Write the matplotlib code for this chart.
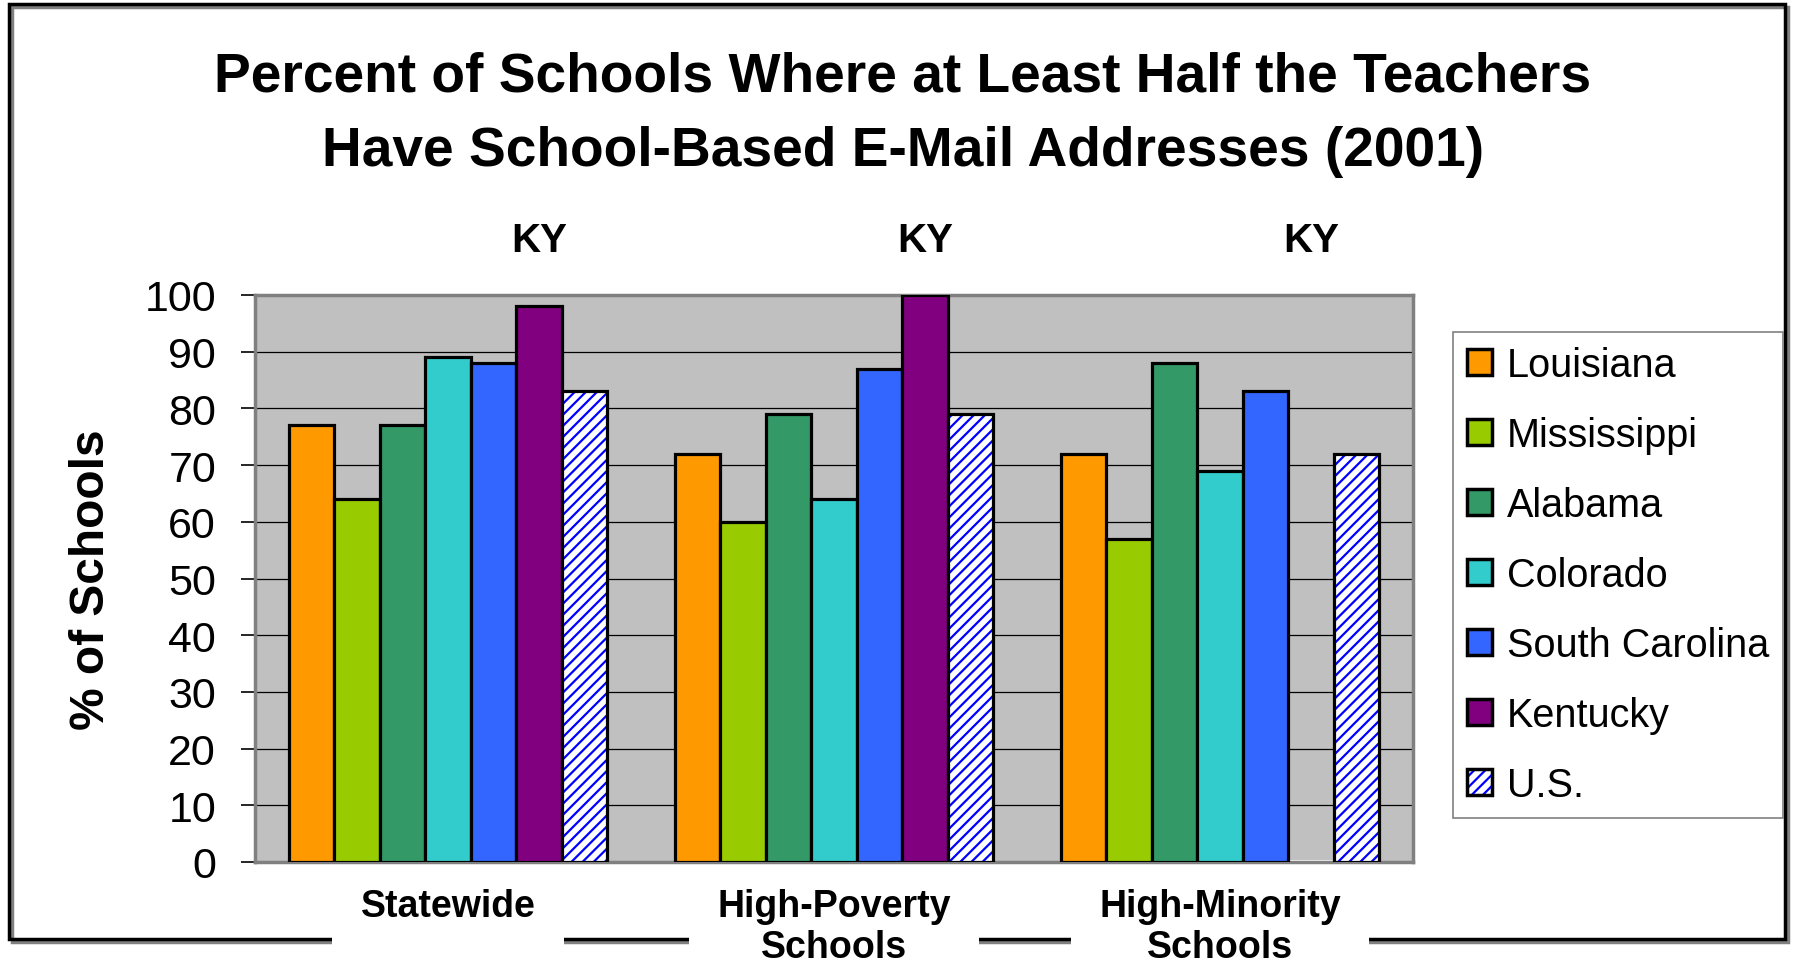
import numpy as np
import matplotlib
matplotlib.use('Agg')
import matplotlib.pyplot as plt
from matplotlib.patches import Rectangle, Patch
from matplotlib.legend_handler import HandlerTuple

plt.rcParams['font.family'] = ['Liberation Sans', 'DejaVu Sans']
plt.rcParams['hatch.linewidth'] = 1.6

# Percent of schools, one list per state, in the order of the groups
groups = ['Statewide', 'High-Poverty\nSchools', 'High-Minority\nSchools']
states = ['Louisiana', 'Mississippi', 'Alabama', 'Colorado',
          'South Carolina', 'Kentucky', 'U.S.']
louisiana = [77, 72, 72]
mississippi = [64, 60, 57]
alabama = [77, 79, 88]
colorado = [89, 64, 69]
south_carolina = [88, 87, 83]
kentucky = [98, 100, np.nan]
us = [83, 79, 72]
series = [louisiana, mississippi, alabama, colorado, south_carolina, kentucky, us]
colors = ['#FF9900', '#99CC00', '#339966', '#33CCCC', '#3366FF', '#800080', 'white']

fig = plt.figure(figsize=(17.93, 9.70), dpi=100)
ax = fig.add_axes([255/1793, 1 - 863/970, 1158/1793, 567/970])
ax.set_facecolor('#C0C0C0')

x = np.arange(len(groups))
w = 1 / 8.5  # Excel gap width 150%
handles = []
for i, (name, vals, col) in enumerate(zip(states, series, colors)):
    vals = np.array(vals, dtype=float)
    ok = ~np.isnan(vals)
    pos = x[ok] + (i - 3) * w
    if name == 'U.S.':
        # blue hatch on white, black outline drawn on top
        ax.bar(pos, vals[ok], w, color='white', edgecolor='#0000FF',
               hatch='///', linewidth=0, zorder=3)
        ax.bar(pos, vals[ok], w, fill=False, edgecolor='black',
               linewidth=2.3, zorder=4)
        h = (Patch(facecolor='white', edgecolor='#0000FF', hatch='///', linewidth=0),
             Patch(fill=False, edgecolor='black', linewidth=2.5))
    else:
        ax.bar(pos, vals[ok], w, color=col, edgecolor='black',
               linewidth=2.3, zorder=3)
        h = Patch(facecolor=col, edgecolor='black', linewidth=2.5)
    handles.append(h)

ax.set_xlim(-0.5, 2.5)
ax.set_ylim(0, 100)
ax.set_yticks(range(0, 101, 10))
ax.yaxis.grid(True, color='black', linewidth=0.9)
ax.set_axisbelow(True)
ax.tick_params(axis='y', labelsize=31, length=10, width=1.2, pad=18)
ax.tick_params(axis='x', length=0, labelsize=27, pad=19)
ax.set_xticks(x)
ax.set_xticklabels(groups, fontweight='bold', linespacing=1.15)
for lab in ax.get_xticklabels():
    lab.set_bbox(dict(boxstyle='square,pad=0.75', facecolor='white', edgecolor='none'))
for s in ax.spines.values():
    s.set_color('#808080')
    s.set_linewidth(2.5)
ax.set_ylabel('% of Schools', fontsize=34.5, fontweight='bold', labelpad=22)

# "KY" marker above each Kentucky bar
for xi in x:
    ax.text(xi + 2 * w, 1.077, 'KY', transform=ax.get_xaxis_transform(),
            ha='center', va='baseline', fontsize=29, fontweight='bold')

fig.text(903/1793, 1 - 92/970, 'Percent of Schools Where at Least Half the Teachers',
         ha='center', va='baseline', fontsize=39.7, fontweight='bold')
fig.text(903/1793, 1 - 165.7/970, 'Have School-Based E-Mail Addresses (2001)',
         ha='center', va='baseline', fontsize=39.7, fontweight='bold')

leg = fig.legend(handles, states, loc='upper left',
                 bbox_to_anchor=(1453/1793, 1 - 333/970), borderaxespad=0,
                 fontsize=28.5, handlelength=0.63, handleheight=0.63,
                 handletextpad=0.38, labelspacing=0.81, borderpad=0.35,
                 fancybox=False, framealpha=1,
                 handler_map={tuple: HandlerTuple(ndivide=1)})
leg.get_frame().set_edgecolor('#808080')
leg.get_frame().set_linewidth(1.2)

# chart border with a small shadow
fig.patches.append(Rectangle((12/1793, 1 - 943/970), 1776/1793, 935/970,
                             transform=fig.transFigure, fill=False,
                             edgecolor='#808080', linewidth=2.5, zorder=-2))
fig.patches.append(Rectangle((9/1793, 1 - 940/970), 1776/1793, 935/970,
                             transform=fig.transFigure, fill=False,
                             edgecolor='black', linewidth=2.5, zorder=-1))

fig.savefig('out.png', dpi=100)
